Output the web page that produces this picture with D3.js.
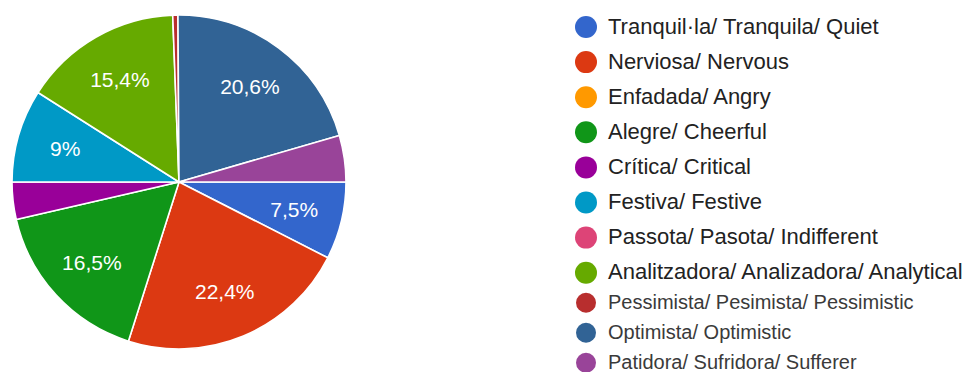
<!DOCTYPE html>
<html>
<head>
<meta charset="utf-8">
<script src="https://cdn.jsdelivr.net/npm/d3@7"></script>
<style>
  html, body { margin: 0; padding: 0; background: #ffffff; }
  svg { display: block; }
  text { font-family: "Liberation Sans", Arial, sans-serif; }
</style>
</head>
<body>
<svg id="chart" width="974" height="372"></svg>
<script>
// Mood categories (Catalan / Spanish / English) and their share of answers (%)
const categories = [
  "Tranquil·la/ Tranquila/ Quiet",
  "Nerviosa/ Nervous",
  "Enfadada/ Angry",
  "Alegre/ Cheerful",
  "Crítica/ Critical",
  "Festiva/ Festive",
  "Passota/ Pasota/ Indifferent",
  "Analitzadora/ Analizadora/ Analytical",
  "Pessimista/ Pesimista/ Pessimistic",
  "Optimista/ Optimistic",
  "Patidora/ Sufridora/ Sufferer"
];
const values = [7.5, 22.4, 0, 16.5, 3.6, 9, 0, 15.4, 0.5, 20.6, 4.5];
const colors = [
  "#3366cc", "#dc3912", "#ff9900", "#109618", "#990099", "#0099c6",
  "#dd4477", "#66aa00", "#b82e2e", "#316395", "#994499"
];

const svg = d3.select("#chart");
const W = 974, H = 372;

// ---- Pie ----
const cx = 179, cy = 182, radius = 167;
const data = categories.map((c, i) => ({ name: c, value: values[i], color: colors[i] }));

const pie = d3.pie()
  .value(d => d.value)
  .sort(null)
  .startAngle(Math.PI / 2)
  .endAngle(Math.PI / 2 + 2 * Math.PI);

const arc = d3.arc().innerRadius(0).outerRadius(radius);
const labelArc = d3.arc().innerRadius(radius * 0.71).outerRadius(radius * 0.71);

const g = svg.append("g").attr("transform", `translate(${cx},${cy})`);
const arcs = pie(data);

g.selectAll("path.slice")
  .data(arcs.filter(d => d.data.value > 0))
  .join("path")
  .attr("class", "slice")
  .attr("d", arc)
  .attr("fill", d => d.data.color)
  .attr("stroke", "#ffffff")
  .attr("stroke-width", 1.6)
  .attr("stroke-linejoin", "round");

const fmt = v => (Number.isInteger(v) ? String(v) : v.toFixed(1).replace(".", ",")) + "%";

g.selectAll("text.pct")
  .data(arcs.filter(d => d.data.value >= 5))
  .join("text")
  .attr("class", "pct")
  .attr("transform", d => `translate(${labelArc.centroid(d)})`)
  .attr("text-anchor", "middle")
  .attr("dy", "0.35em")
  .attr("fill", "#ffffff")
  .attr("font-size", 21)
  .text(d => fmt(d.data.value));

// ---- Legend ----
const legendX = 586, legendTextX = 608;
const bigRows = 8;                  // first rows use the larger style
let y = 27;
const rowsY = categories.map((c, i) => {
  if (i > 0) y += (i < bigRows ? 35.1 : 30);
  return y;
});

const legend = svg.append("g");
const rows = legend.selectAll("g.row")
  .data(data)
  .join("g")
  .attr("class", "row")
  .attr("transform", (d, i) => `translate(0,${rowsY[i]})`);

rows.append("circle")
  .attr("cx", legendX)
  .attr("cy", 0)
  .attr("r", (d, i) => i < bigRows ? 11 : 10)
  .attr("fill", d => d.color);

rows.append("text")
  .attr("x", legendTextX)
  .attr("y", 0)
  .attr("dy", "0.3em")
  .attr("font-size", (d, i) => i < bigRows ? 22 : 20)
  .attr("fill", (d, i) => i < bigRows ? "#222222" : "#3a3a3a")
  .text(d => d.name);
</script>
</body>
</html>
